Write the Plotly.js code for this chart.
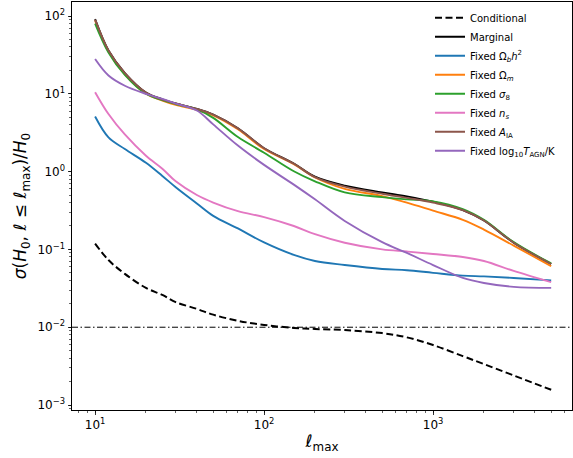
<!DOCTYPE html>
<html>
<head>
<meta charset="utf-8">
<script src="https://cdn.plot.ly/plotly-3.0.1.min.js"></script>
<style>html,body{margin:0;padding:0;background:#fff;}#chart{width:573px;height:458px;}</style>
</head>
<body>
<div id="chart"></div>
<script>
const ellMax = [10, 12, 15, 20, 25, 30, 40, 50, 70, 100, 150, 200, 300, 500, 700, 1000, 1500, 2000, 3000, 5000];

const conditional = [0.119, 0.073, 0.0485, 0.032, 0.026, 0.021, 0.0172, 0.0145, 0.0121, 0.0107, 0.0098, 0.0095, 0.0092, 0.0084, 0.0074, 0.0059, 0.00425, 0.00336, 0.0024, 0.00157];
const marginal    = [91, 36, 18.5, 10.4, 8.5, 7.5, 6.4, 5.4, 3.6, 2.0, 1.27, 0.86, 0.66, 0.54, 0.48, 0.41, 0.32, 0.235, 0.122, 0.065];
const fixedObh2   = [5.1, 2.75, 1.95, 1.3, 0.88, 0.63, 0.39, 0.27, 0.186, 0.123, 0.085, 0.071, 0.063, 0.056, 0.054, 0.050, 0.046, 0.045, 0.043, 0.040];
const fixedOm     = [88, 35, 17.8, 10.0, 8.2, 7.2, 6.2, 5.3, 3.5, 1.95, 1.25, 0.84, 0.60, 0.485, 0.40, 0.315, 0.24, 0.18, 0.112, 0.061];
const fixedS8     = [80, 34, 17.5, 10.0, 8.3, 7.4, 6.3, 4.9, 2.78, 1.75, 1.01, 0.75, 0.54, 0.47, 0.44, 0.415, 0.33, 0.24, 0.124, 0.066];
const fixedNs     = [10.5, 5.5, 3.0, 1.6, 1.09, 0.75, 0.50, 0.40, 0.31, 0.26, 0.20, 0.157, 0.122, 0.10, 0.094, 0.0875, 0.080, 0.071, 0.053, 0.038];
const fixedAIA    = [90, 36, 18.5, 10.4, 8.4, 7.5, 6.4, 5.4, 3.6, 2.0, 1.26, 0.85, 0.64, 0.52, 0.46, 0.40, 0.32, 0.235, 0.122, 0.065];
const fixedTAGN   = [28, 17.2, 12.7, 10.0, 8.6, 7.5, 6.1, 4.05, 2.16, 1.22, 0.68, 0.44, 0.232, 0.124, 0.09, 0.063, 0.043, 0.037, 0.033, 0.032];

const referenceLevel = 0.01;

const yTickVals = [1e-3, 1e-2, 1e-1, 1e0, 1e1, 1e2];
const yTickText = ['10<sup>\u22123</sup>', '10<sup>\u22122</sup>', '10<sup>\u22121</sup>', '10<sup>0</sup>', '10<sup>1</sup>', '10<sup>2</sup>'];
const xTickVals = [1e1, 1e2, 1e3];
const xTickText = ['10<sup>1</sup>', '10<sup>2</sup>', '10<sup>3</sup>'];

const names = ['Conditional', 'Marginal', 'Fixed \u03a9<sub><i>b</i></sub><i>h</i><sup>2</sup>', 'Fixed \u03a9<sub><i>m</i></sub>',
  'Fixed <i>\u03c3</i><sub>8</sub>', 'Fixed <i>n</i><sub><i>s</i></sub>', 'Fixed <i>A</i><sub>IA</sub>',
  'Fixed log<sub>10</sub><i>T</i><sub>AGN</sub>/K'];
const series = [conditional, marginal, fixedObh2, fixedOm, fixedS8, fixedNs, fixedAIA, fixedTAGN];
const colors = ['#000000', '#000000', '#1f77b4', '#ff7f0e', '#2ca02c', '#e377c2', '#8c564b', '#9467bd'];

const traces = series.map((s, i) => ({
  x: ellMax, y: s, name: names[i], type: 'scatter', mode: 'lines',
  line: {color: colors[i], width: i === 0 ? 2 : 1.9, shape: 'spline', smoothing: 1, dash: i === 0 ? '7px,3.5px' : 'solid'}
}));

const axisCommon = {
  type: 'log', showline: true, linecolor: '#000', linewidth: 1, mirror: true,
  ticks: 'outside', ticklen: 3.5, tickwidth: 0.8, tickcolor: '#000', showgrid: false, zeroline: false,
  tickmode: 'array', tickfont: {family: 'DejaVu Sans', size: 12, color: '#000'},
  minor: {ticks: 'outside', ticklen: 2, tickwidth: 0.6, tickcolor: '#000', dtick: 'D1', showgrid: false}
};

const layout = {
  width: 573, height: 458,
  margin: {l: 72, r: 1, t: 2, b: 48},
  paper_bgcolor: '#fff', plot_bgcolor: '#fff',
  font: {family: 'DejaVu Sans', color: '#000'},
  showlegend: true,
  legend: {x: 0.716, xanchor: 'left', y: 0.997, yanchor: 'top', bgcolor: 'rgba(0,0,0,0)',
           font: {family: 'DejaVu Sans', size: 10, color: '#000'}, borderwidth: 0},
  xaxis: Object.assign({}, axisCommon, {
    range: [Math.log10(7.3), Math.log10(6640)], tickvals: xTickVals, ticktext: xTickText,
    title: {text: '<i>\u2113</i><sub>max</sub>', font: {family: 'DejaVu Sans', size: 17}, standoff: 4}
  }),
  yaxis: Object.assign({}, axisCommon, {
    range: [-3.064, 2.18], tickvals: yTickVals, ticktext: yTickText,
    title: {text: '<i>\u03c3</i>(<i>H</i><sub>0</sub>, <i>\u2113</i> \u2264 <i>\u2113</i><sub>max</sub>)/<i>H</i><sub>0</sub>',
            font: {family: 'DejaVu Sans', size: 17}, standoff: 6}
  }),
  shapes: [{type: 'line', xref: 'paper', x0: 0, x1: 1, yref: 'y', y0: referenceLevel, y1: referenceLevel,
            line: {color: '#000', width: 1, dash: '6px,2.5px,1.5px,2.5px'}, layer: 'below'}]
};

Plotly.newPlot('chart', traces, layout, {displayModeBar: false, staticPlot: true});
</script>
</body>
</html>
